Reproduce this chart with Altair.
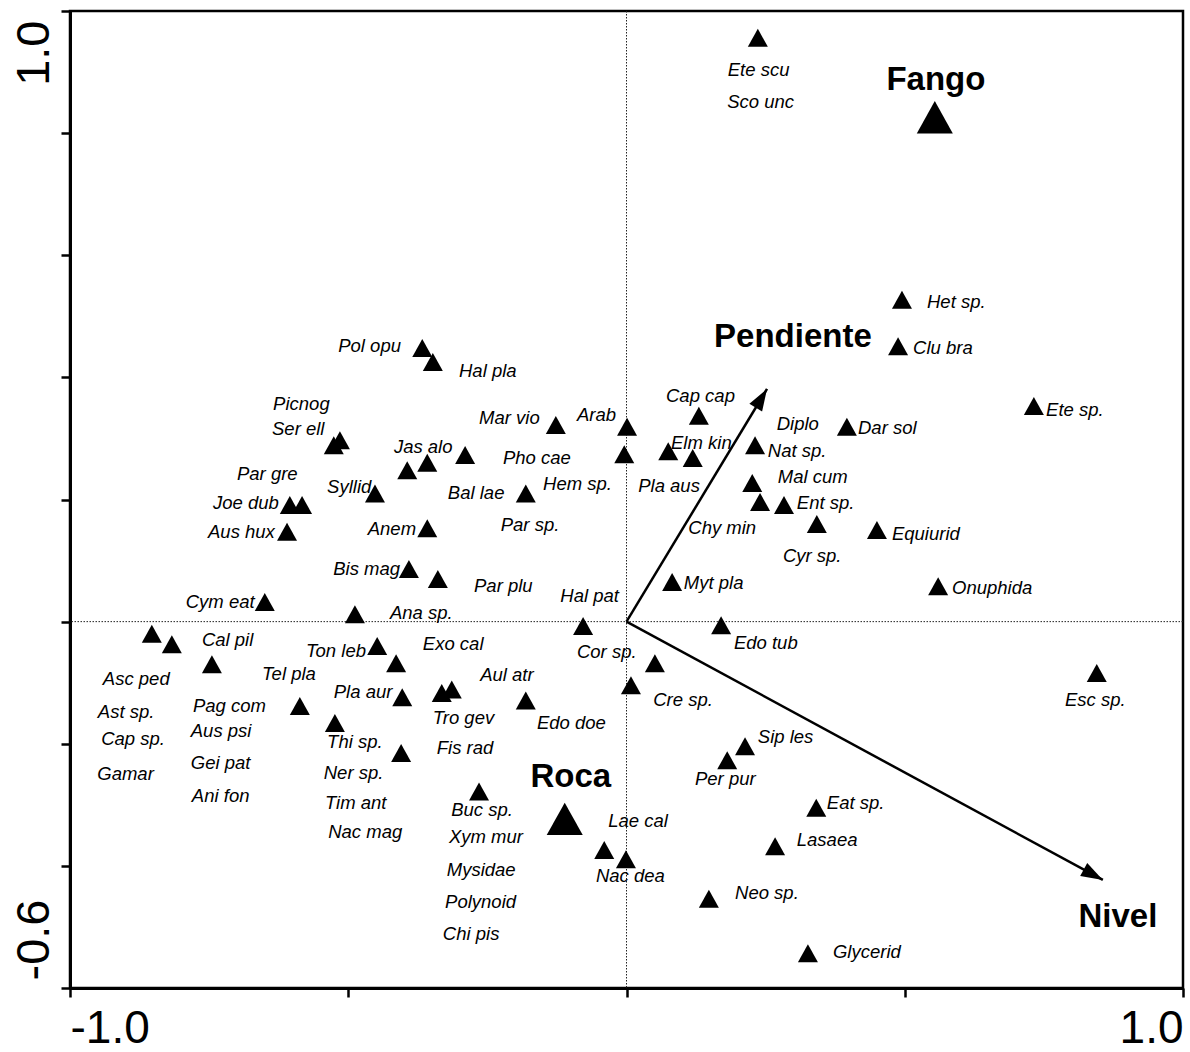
import math
import altair as alt
import pandas as pd

# ---------------- data (CCA ordination scores, axis units) ----------------
# species scores (small triangles)
sp_x = [0.236, 0.495, 0.488, -0.367, -0.348, 0.732, 0.130, -0.127, 0.001, 0.396,
        -0.515, -0.526, 0.231, 0.075, -0.004, -0.290, 0.119, -0.358, -0.394, 0.226,
        -0.452, -0.181, 0.240, 0.283, -0.605, -0.583, 0.342, -0.358, 0.450, -0.610,
        -0.391, -0.339, 0.082, 0.560, -0.650, -0.488, -0.078, 0.170, -0.853, -0.817,
        -0.448, 0.051, -0.745, -0.414, 0.845, 0.008, -0.314, -0.332, -0.403, -0.181,
        -0.587, -0.524, 0.213, -0.405, 0.181, -0.265, 0.341, -0.040, -0.001, 0.267,
        0.148, 0.326]
sp_y = [0.956, 0.527, 0.451, 0.448, 0.425, 0.353, 0.337, 0.322, 0.319, 0.319,
        0.297, 0.289, 0.289, 0.279, 0.274, 0.273, 0.268, 0.260, 0.248, 0.227,
        0.210, 0.210, 0.196, 0.191, 0.191, 0.191, 0.160, 0.153, 0.150, 0.147,
        0.086, 0.070, 0.065, 0.058, 0.032, 0.012, -0.007, -0.006, -0.020, -0.037,
        -0.040, -0.068, -0.070, -0.068, -0.084, -0.104, -0.111, -0.117, -0.124, -0.129,
        -0.138, -0.166, -0.204, -0.215, -0.227, -0.278, -0.305, -0.374, -0.389, -0.368,
        -0.454, -0.543]

# species labels and their positions
lab_names = ["Ete scu", "Sco unc", "Het sp.", "Clu bra", "Ete sp.", "Dar sol", "Ent sp.",
             "Cyr sp.", "Equiurid", "Onuphida", "Mal cum", "Diplo", "Nat sp.", "Esc sp.",
             "Eat sp.", "Lasaea", "Glycerid", "Neo sp.", "Pol opu", "Hal pla", "Cap cap",
             "Mar vio", "Arab", "Jas alo", "Pho cae", "Elm kin", "Hem sp.", "Pla aus",
             "Bal lae", "Par sp.", "Chy min", "Anem", "Bis mag", "Par plu", "Hal pat",
             "Myt pla", "Ana sp.", "Exo cal", "Cor sp.", "Edo tub", "Aul atr", "Picnog",
             "Ser ell", "Par gre", "Syllid", "Joe dub", "Aus hux", "Cym eat", "Cal pil",
             "Ton leb", "Asc ped", "Tel pla", "Pla aur", "Pag com", "Ast sp.", "Aus psi",
             "Cap sp.", "Thi sp.", "Gei pat", "Gamar", "Ner sp.", "Ani fon", "Tim ant",
             "Nac mag", "Tro gev", "Edo doe", "Fis rad", "Cre sp.", "Buc sp.", "Lae cal",
             "Xym mur", "Nac dea", "Mysidae", "Polynoid", "Chi pis", "Sip les", "Per pur"]
lab_x = [0.182, 0.181, 0.540, 0.515, 0.754, 0.416, 0.306,
         0.281, 0.477, 0.585, 0.272, 0.270, 0.254, 0.788,
         0.360, 0.306, 0.371, 0.195, -0.518, -0.301, 0.071,
         -0.265, -0.089, -0.418, -0.222, 0.080, -0.150, 0.021,
         -0.321, -0.226, 0.111, -0.465, -0.527, -0.274, -0.119,
         0.103, -0.425, -0.366, -0.089, 0.193, -0.263, -0.635,
         -0.637, -0.700, -0.538, -0.743, -0.752, -0.792, -0.763,
         -0.576, -0.941, -0.655, -0.526, -0.779, -0.950, -0.783,
         -0.944, -0.538, -0.783, -0.951, -0.544, -0.781, -0.542,
         -0.536, -0.348, -0.161, -0.341, 0.048, -0.315, -0.033,
         -0.319, -0.055, -0.323, -0.326, -0.330, 0.236, 0.123]
lab_y = [0.903, 0.851, 0.523, 0.448, 0.346, 0.317, 0.194,
         0.107, 0.143, 0.055, 0.237, 0.323, 0.279, -0.129,
         -0.297, -0.358, -0.541, -0.445, 0.451, 0.410, 0.369,
         0.333, 0.338, 0.286, 0.268, 0.292, 0.225, 0.222,
         0.210, 0.158, 0.153, 0.151, 0.086, 0.058, 0.042,
         0.063, 0.014, -0.037, -0.050, -0.035, -0.088, 0.356,
         0.315, 0.242, 0.220, 0.194, 0.147, 0.032, -0.030,
         -0.048, -0.094, -0.086, -0.115, -0.138, -0.148, -0.179,
         -0.192, -0.197, -0.232, -0.250, -0.248, -0.286, -0.297,
         -0.345, -0.158, -0.166, -0.207, -0.129, -0.309, -0.327,
         -0.353, -0.417, -0.407, -0.459, -0.512, -0.189, -0.258]

# nominal environmental variables (centroids, big triangles)
cent_names = ["Fango", "Roca"]
cent_x = [0.554, -0.111]
cent_y = [0.826, -0.323]
cent_lab_x = [0.556, -0.100]
cent_lab_y = [0.887, -0.255]

# quantitative environmental variables (arrows)
arr_names = ["Pendiente", "Nivel"]
arr_x = [0.2525, 0.856]
arr_y = [0.381, -0.423]
arr_lab_x = [0.299, 0.883]
arr_lab_y = [0.466, -0.484]

x_ticks = [-1.0, -0.5, 0.0, 0.5, 1.0]
y_ticks = [-0.6, -0.4, -0.2, 0.0, 0.2, 0.4, 0.6, 0.8, 1.0]

# ---------------- layout / style ----------------
W, H = 1113, 977
X_DOM = [-1.0, 1.0]
Y_DOM = [-0.6, 1.0]
FONT = "Liberation Sans"
TRI = "M0,-0.9L1,0.9L-1,0.9Z"
HEAD = "M0,0L0.34,1L-0.34,1Z"

kx = W / (X_DOM[1] - X_DOM[0])
ky = H / (Y_DOM[1] - Y_DOM[0])

species = pd.DataFrame({"x": sp_x, "y": sp_y})
labels = pd.DataFrame({"name": lab_names, "x": lab_x, "y": lab_y})
cents = pd.DataFrame({"name": cent_names, "x": cent_x, "y": cent_y})
cent_labs = pd.DataFrame({"name": cent_names, "x": cent_lab_x, "y": cent_lab_y})
arrows = pd.DataFrame({"name": arr_names, "x0": [0.0, 0.0], "y0": [0.0, 0.0],
                       "x": arr_x, "y": arr_y})
arrows["ang"] = [
    (math.degrees(math.atan2(ax * kx, ay * ky)) + 360) % 360
    for ax, ay in zip(arr_x, arr_y)
]
arr_labs = pd.DataFrame({"name": arr_names, "x": arr_lab_x, "y": arr_lab_y})
zero = pd.DataFrame({"v": [0.0]})

xscale = alt.Scale(domain=X_DOM, nice=False, zero=False)
yscale = alt.Scale(domain=Y_DOM, nice=False, zero=False)

xaxis = alt.Axis(
    values=x_ticks, title=None, grid=False,
    labelExpr="abs(datum.value + 1) < 0.001 ? '-1.0' : (abs(datum.value - 1) < 0.001 ? '1.0' : '')",
    labelFlush=True, labelOverlap=False, labelFont=FONT, labelFontSize=46,
    labelColor="black", labelBaseline="alphabetic", labelPadding=45,
    tickSize=9, tickWidth=2.5, tickColor="black",
    domainColor="black", domainWidth=3,
)
yaxis = alt.Axis(
    values=y_ticks, title=None, grid=False,
    labelExpr="abs(datum.value - 1) < 0.001 ? '1.0' : (abs(datum.value + 0.6) < 0.001 ? '-0.6' : '')",
    labelAngle=270, labelOverlap=False, labelFlush=False,
    labelAlign={"condition": {"test": "datum.value > 0.5", "value": "right"}, "value": "left"},
    labelOffset={"condition": {"test": "datum.value > 0.5", "value": 9}, "value": -8},
    labelBaseline="alphabetic", labelPadding=13,
    labelFont=FONT, labelFontSize=47, labelColor="black",
    tickSize=9, tickWidth=2.5, tickColor="black",
    domainColor="black", domainWidth=3,
)


def X(field):
    return alt.X(field, type="quantitative", scale=xscale, axis=xaxis)


def Y(field):
    return alt.Y(field, type="quantitative", scale=yscale, axis=yaxis)


vline = alt.Chart(zero).mark_rule(color="#222", strokeWidth=1, strokeDash=[1.5, 1.5]).encode(
    x=X("v"))
hline = alt.Chart(zero).mark_rule(color="#222", strokeWidth=1, strokeDash=[1.5, 1.5]).encode(
    y=Y("v"))

arrow_lines = alt.Chart(arrows).mark_rule(color="black", strokeWidth=2.5).encode(
    x=X("x0"), y=Y("y0"), x2="x", y2="y")
arrow_heads = alt.Chart(arrows).mark_point(
    shape=HEAD, filled=True, color="black", opacity=1, size=1900, strokeWidth=0
).encode(x=X("x"), y=Y("y"), angle=alt.Angle("ang:Q", scale=None))

sp_pts = alt.Chart(species).mark_point(
    shape=TRI, filled=True, color="black", opacity=1, size=400, strokeWidth=0
).encode(x=X("x"), y=Y("y"))

cent_pts = alt.Chart(cents).mark_point(
    shape=TRI, filled=True, color="black", opacity=1, size=1300, strokeWidth=0
).encode(x=X("x"), y=Y("y"))

sp_text = alt.Chart(labels).mark_text(
    align="left", baseline="middle", font=FONT, fontStyle="italic",
    fontSize=18.5, color="black"
).encode(x=X("x"), y=Y("y"), text="name:N")

cent_text = alt.Chart(cent_labs).mark_text(
    align="center", baseline="middle", font=FONT, fontWeight="bold",
    fontSize=33, color="black"
).encode(x=X("x"), y=Y("y"), text="name:N")

arr_text = alt.Chart(arr_labs).mark_text(
    align="center", baseline="middle", font=FONT, fontWeight="bold",
    fontSize=33, color="black"
).encode(x=X("x"), y=Y("y"), text="name:N")

chart = alt.layer(
    vline, hline, arrow_lines, arrow_heads, sp_pts, cent_pts, sp_text, cent_text, arr_text
).properties(
    width=W, height=H,
    autosize=alt.AutoSizeParams(type="none"),
    padding={"left": 70, "top": 11, "right": 7, "bottom": 64},
    background="white",
).configure_view(stroke="black", strokeWidth=2.5)

chart.save("out.html", embed_options={"renderer": "svg", "actions": False})
